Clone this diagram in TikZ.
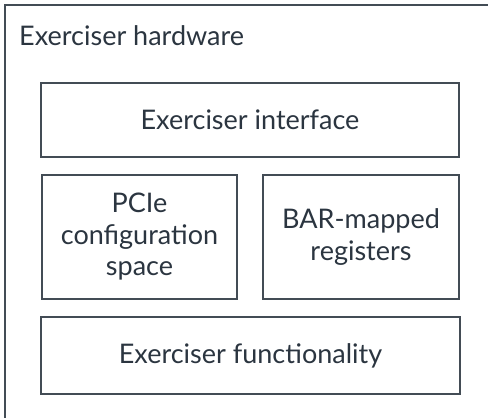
\documentclass[tikz,border=0pt]{standalone}
\usepackage{fontspec}
\setmainfont{Lato}
\definecolor{edgegray}{HTML}{434C55}
\definecolor{inkgray}{HTML}{2B3540}
\tikzset{
  block/.style={draw=edgegray, line width=1.8pt, fill=white, text=inkgray,
    align=center, inner sep=0pt, font=\fontsize{27}{31.5}\selectfont},
}

\begin{document}
\begin{tikzpicture}[x=1pt,y=-1pt]
    \useasboundingbox (0,0) rectangle (488,418);
    \clip (0,0) rectangle (488,418);

    % Outer frame: runs off the right and bottom edges
    \draw[edgegray, line width=2pt] (5,430) -- (5,5) -- (500,5);
    \node[anchor=base west, text=inkgray, inner sep=0pt, font=\fontsize{27}{31.5}\selectfont]
        (hw) at (19,45) {Exerciser hardware};

    % Top row
    \node[block, minimum width=418pt, minimum height=74pt] (iface) at (250,120)
        {Exerciser interface};

    % Middle row
    \node[block, minimum width=195pt, minimum height=124pt] (pcie) at (139.5,237)
        {PCIe\\configuration\\space};
    \node[block, minimum width=196pt, minimum height=124pt] (bar) at (361,237)
        {BAR-mapped\\registers};

    % Bottom row
    \node[block, minimum width=419pt, minimum height=77pt] (func) at (250.5,355.5)
        {Exerciser functionality};
\end{tikzpicture}
\end{document}
